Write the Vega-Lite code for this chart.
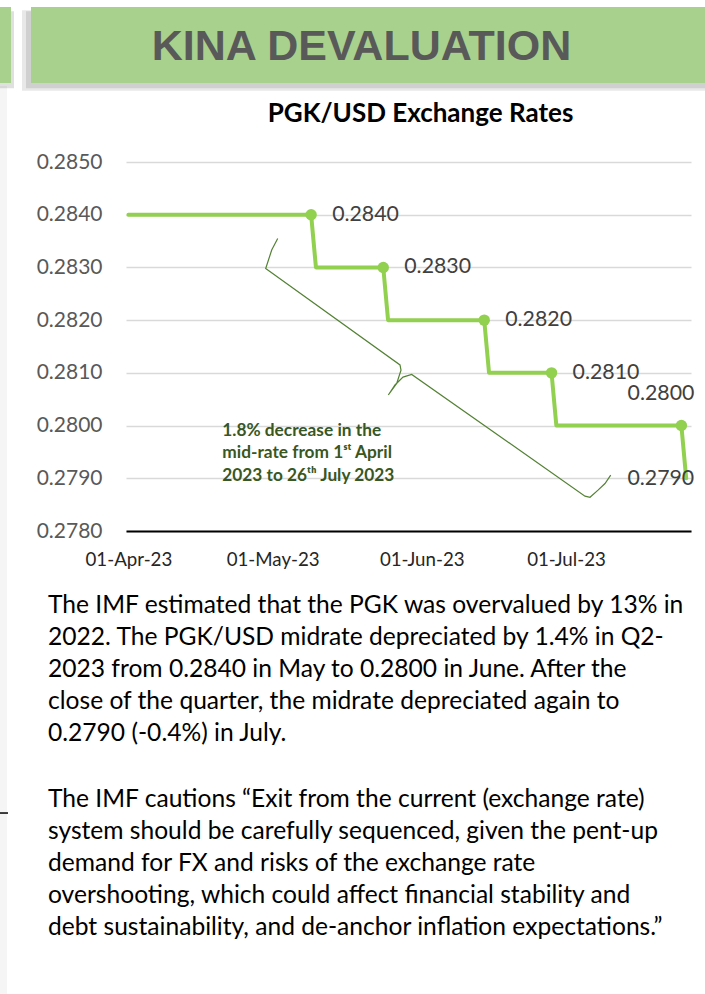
{
  "$schema": "https://vega.github.io/schema/vega-lite/v6.json",
  "autosize": {"type": "none"},
  "width": 565,
  "height": 369,
  "padding": {"left": 126, "top": 162, "right": 14, "bottom": 463},
  "background": "white",
  "config": {"view": {"stroke": null}, "font": "Lato"},
  "data": {
    "values": [
      {"date": "2023-04-01T00:00", "rate": 0.284, "marked": false},
      {"date": "2023-05-09T00:00", "rate": 0.284, "marked": true},
      {"date": "2023-05-10T00:00", "rate": 0.283, "marked": false},
      {"date": "2023-05-24T00:00", "rate": 0.283, "marked": true},
      {"date": "2023-05-25T00:00", "rate": 0.282, "marked": false},
      {"date": "2023-06-14T00:00", "rate": 0.282, "marked": true},
      {"date": "2023-06-15T00:00", "rate": 0.281, "marked": false},
      {"date": "2023-06-28T00:00", "rate": 0.281, "marked": true},
      {"date": "2023-06-29T00:00", "rate": 0.28, "marked": false},
      {"date": "2023-07-25T00:00", "rate": 0.28, "marked": true},
      {"date": "2023-07-26T00:00", "rate": 0.279, "marked": false}
    ]
  },
  "layer": [
    {
      "data": {"values": [{"part": "page edge"}]},
      "mark": {"type": "rect", "color": "#f5f5f5"},
      "encoding": {
        "x": {"datum": {"year": 2023, "month": 3, "date": 1}, "type": "temporal"},
        "x2": {"datum": {"year": 2023, "month": 3, "date": 6, "hours": 18}},
        "y": {"datum": 0.28644, "type": "quantitative"},
        "y2": {"datum": 0.269}
      }
    },
    {
      "data": {"values": [{"part": "banner shadow"}]},
      "mark": {"type": "rect", "color": "#000000", "opacity": 0.09},
      "encoding": {
        "x": {"datum": {"year": 2023, "month": 3, "date": 9, "hours": 20, "minutes": 56}, "type": "temporal"},
        "x2": {"datum": {"year": 2023, "month": 8, "date": 10}},
        "y": {"datum": 0.28788, "type": "quantitative"},
        "y2": {"datum": 0.28635}
      }
    },
    {
      "data": {"values": [{"part": "banner shadow"}]},
      "mark": {"type": "rect", "color": "#000000", "opacity": 0.1},
      "encoding": {
        "x": {"datum": {"year": 2023, "month": 3, "date": 10, "hours": 16, "minutes": 54}, "type": "temporal"},
        "x2": {"datum": {"year": 2023, "month": 8, "date": 10}},
        "y": {"datum": 0.28786, "type": "quantitative"},
        "y2": {"datum": 0.2864}
      }
    },
    {
      "data": {"values": [{"part": "side shadow"}]},
      "mark": {"type": "rect", "color": "#000000", "opacity": 0.12},
      "encoding": {
        "x": {"datum": {"year": 2023, "month": 3, "date": 1}, "type": "temporal"},
        "x2": {"datum": {"year": 2023, "month": 3, "date": 8, "hours": 5}},
        "y": {"datum": 0.28786, "type": "quantitative"},
        "y2": {"datum": 0.2864}
      }
    },
    {
      "data": {"values": [{"part": "side banner"}]},
      "mark": {"type": "rect", "color": "#A9D18E"},
      "encoding": {
        "x": {"datum": {"year": 2023, "month": 3, "date": 1}, "type": "temporal"},
        "x2": {"datum": {"year": 2023, "month": 3, "date": 7, "hours": 14}},
        "y": {"datum": 0.28794, "type": "quantitative"},
        "y2": {"datum": 0.2865}
      }
    },
    {
      "data": {"values": [{"part": "banner"}]},
      "mark": {"type": "rect", "color": "#A9D18E"},
      "encoding": {
        "x": {"datum": {"year": 2023, "month": 3, "date": 11, "hours": 17, "minutes": 50}, "type": "temporal"},
        "x2": {"datum": {"year": 2023, "month": 8, "date": 10}},
        "y": {"datum": 0.28794, "type": "quantitative"},
        "y2": {"datum": 0.2865}
      }
    },
    {
      "data": {"values": [{"text": "KINA DEVALUATION"}]},
      "mark": {"type": "text", "font": "Liberation Sans", "fontWeight": "bold", "fontSize": 43, "color": "#595959", "align": "center", "baseline": "alphabetic"},
      "encoding": {
        "x": {"datum": {"year": 2023, "month": 5, "date": 19, "hours": 11, "minutes": 25}, "type": "temporal"},
        "y": {"datum": 0.286935, "type": "quantitative"},
        "text": {"field": "text"}
      }
    },
    {
      "data": {"values": [{"text": "PGK/USD Exchange Rates"}]},
      "mark": {"type": "text", "font": "Lato", "fontWeight": "bold", "fontSize": 26, "color": "#000000", "align": "center", "baseline": "alphabetic"},
      "encoding": {
        "x": {"datum": {"year": 2023, "month": 5, "date": 31, "hours": 17, "minutes": 53}, "type": "temporal"},
        "y": {"datum": 0.285759, "type": "quantitative"},
        "text": {"field": "text"}
      }
    },
    {
      "mark": {"type": "line", "color": "#92D050", "strokeWidth": 4, "strokeCap": "round", "strokeJoin": "round"},
      "encoding": {
        "x": {
          "field": "date",
          "type": "temporal",
          "scale": {"domain": [{"year": 2023, "month": 3, "date": 31, "hours": 12}, {"year": 2023, "month": 7, "date": 27}], "nice": false},
          "axis": {
            "title": null,
            "values": [{"year": 2023, "month": 4, "date": 1}, {"year": 2023, "month": 5, "date": 1}, {"year": 2023, "month": 6, "date": 1}, {"year": 2023, "month": 7, "date": 1}],
            "format": "%d-%b-%y",
            "grid": false,
            "ticks": false,
            "tickSize": 0,
            "domain": true,
            "domainColor": "#000000",
            "domainWidth": 2,
            "labelFont": "Lato",
            "labelFontSize": 18.7,
            "labelColor": "#262626",
            "labelPadding": 34,
            "labelBaseline": "alphabetic",
            "labelFlush": false,
            "labelOverlap": false,
            "zindex": 1
          }
        },
        "y": {
          "field": "rate",
          "type": "quantitative",
          "scale": {"domain": [0.278, 0.285], "nice": false, "zero": false},
          "axis": {
            "title": null,
            "values": [0.278, 0.279, 0.28, 0.281, 0.282, 0.283, 0.284, 0.285],
            "format": ".4f",
            "grid": true,
            "gridColor": "#d9d9d9",
            "gridWidth": 1.5,
            "domain": false,
            "ticks": false,
            "tickSize": 0,
            "labelFont": "Lato",
            "labelFontSize": 21,
            "labelColor": "#595959",
            "labelPadding": 24,
            "labelBaseline": "middle"
          }
        }
      }
    },
    {
      "transform": [{"filter": "datum.marked"}],
      "mark": {"type": "circle", "color": "#92D050", "size": 130, "opacity": 1},
      "encoding": {
        "x": {"field": "date", "type": "temporal"},
        "y": {"field": "rate", "type": "quantitative"}
      }
    },
    {
      "transform": [{"filter": "datum.marked && datum.rate > 0.2805"}],
      "mark": {"type": "text", "align": "left", "baseline": "middle", "dx": 21, "font": "Lato", "fontSize": 21.3, "color": "#404040"},
      "encoding": {
        "x": {"field": "date", "type": "temporal"},
        "y": {"field": "rate", "type": "quantitative"},
        "text": {"field": "rate", "type": "quantitative", "format": ".4f"}
      }
    },
    {
      "transform": [{"filter": "datum.marked && datum.rate < 0.2805"}],
      "mark": {"type": "text", "align": "right", "baseline": "middle", "dx": 13, "dy": -32, "font": "Lato", "fontSize": 21.3, "color": "#404040"},
      "encoding": {
        "x": {"field": "date", "type": "temporal"},
        "y": {"field": "rate", "type": "quantitative"},
        "text": {"field": "rate", "type": "quantitative", "format": ".4f"}
      }
    },
    {
      "transform": [{"filter": "datum.rate < 0.2795"}],
      "mark": {"type": "text", "align": "right", "baseline": "middle", "dx": 8, "dy": 1, "font": "Lato", "fontSize": 21.3, "color": "#404040"},
      "encoding": {
        "x": {"field": "date", "type": "temporal"},
        "y": {"field": "rate", "type": "quantitative"},
        "text": {"field": "rate", "type": "quantitative", "format": ".4f"}
      }
    },
    {
      "data": {
        "values": [
          {"seq": 1, "date": "2023-05-02T01:10", "rate": 0.28355},
          {"seq": 2, "date": "2023-04-30T19:13", "rate": 0.28333},
          {"seq": 3, "date": "2023-04-29T13:16", "rate": 0.28298},
          {"seq": 4, "date": "2023-05-27T11:35", "rate": 0.28115},
          {"seq": 5, "date": "2023-05-27T16:34", "rate": 0.28105},
          {"seq": 6, "date": "2023-05-26T19:06", "rate": 0.2808},
          {"seq": 7, "date": "2023-05-25T01:11", "rate": 0.28058},
          {"seq": 8, "date": "2023-05-26T10:37", "rate": 0.28077},
          {"seq": 9, "date": "2023-05-28T02:33", "rate": 0.28092},
          {"seq": 10, "date": "2023-05-29T21:58", "rate": 0.28097},
          {"seq": 11, "date": "2023-07-04T22:56", "rate": 0.27866},
          {"seq": 12, "date": "2023-07-05T23:53", "rate": 0.27864},
          {"seq": 13, "date": "2023-07-07T17:19", "rate": 0.27878},
          {"seq": 14, "date": "2023-07-09T02:46", "rate": 0.2789},
          {"seq": 15, "date": "2023-07-10T07:13", "rate": 0.27906}
        ]
      },
      "mark": {"type": "line", "color": "#548235", "strokeWidth": 1.2},
      "encoding": {
        "x": {"field": "date", "type": "temporal"},
        "y": {"field": "rate", "type": "quantitative"},
        "order": {"field": "seq", "type": "quantitative"}
      }
    },
    {
      "data": {"values": [{"text": ["1.8% decrease in the", "mid-rate from 1ˢᵗ April", "2023 to 26ᵗʰ July 2023"]}]},
      "mark": {"type": "text", "align": "left", "baseline": "alphabetic", "font": "Lato", "fontWeight": "bold", "fontSize": 17.3, "lineHeight": 22.5, "color": "#385723"},
      "encoding": {
        "x": {"datum": {"year": 2023, "month": 4, "date": 20, "hours": 12, "minutes": 39}, "type": "temporal"},
        "y": {"datum": 0.279808, "type": "quantitative"},
        "text": {"field": "text"}
      }
    },
    {
      "data": {"values": [{"text": ["The IMF estimated that the PGK was overvalued by 13% in", "2022. The PGK/USD midrate depreciated by 1.4% in Q2-", "2023 from 0.2840 in May to 0.2800 in June. After the", "close of the quarter, the midrate depreciated again to", "0.2790 (-0.4%) in July."]}]},
      "mark": {"type": "text", "align": "left", "baseline": "alphabetic", "font": "Lato", "fontSize": 24.6, "lineHeight": 32, "color": "#000000"},
      "encoding": {
        "x": {"datum": {"year": 2023, "month": 3, "date": 15, "hours": 6, "minutes": 41}, "type": "temporal"},
        "y": {"datum": 0.276444, "type": "quantitative"},
        "text": {"field": "text"}
      }
    },
    {
      "data": {"values": [{"text": ["The IMF cautions “Exit from the current (exchange rate)", "system should be carefully sequenced, given the pent-up", "demand for FX and risks of the exchange rate", "overshooting, which could affect financial stability and", "debt sustainability, and de-anchor inflation expectations.”"]}]},
      "mark": {"type": "text", "align": "left", "baseline": "alphabetic", "font": "Lato", "fontSize": 24.6, "lineHeight": 32, "color": "#000000"},
      "encoding": {
        "x": {"datum": {"year": 2023, "month": 3, "date": 15, "hours": 6, "minutes": 41}, "type": "temporal"},
        "y": {"datum": 0.272764, "type": "quantitative"},
        "text": {"field": "text"}
      }
    },
    {
      "data": {"values": [{"part": "edge tick"}]},
      "mark": {"type": "rule", "color": "#000000", "strokeWidth": 1.5},
      "encoding": {
        "x": {"datum": {"year": 2023, "month": 3, "date": 1}, "type": "temporal"},
        "x2": {"datum": {"year": 2023, "month": 3, "date": 6, "hours": 23}},
        "y": {"datum": 0.27265, "type": "quantitative"}
      }
    }
  ]
}
